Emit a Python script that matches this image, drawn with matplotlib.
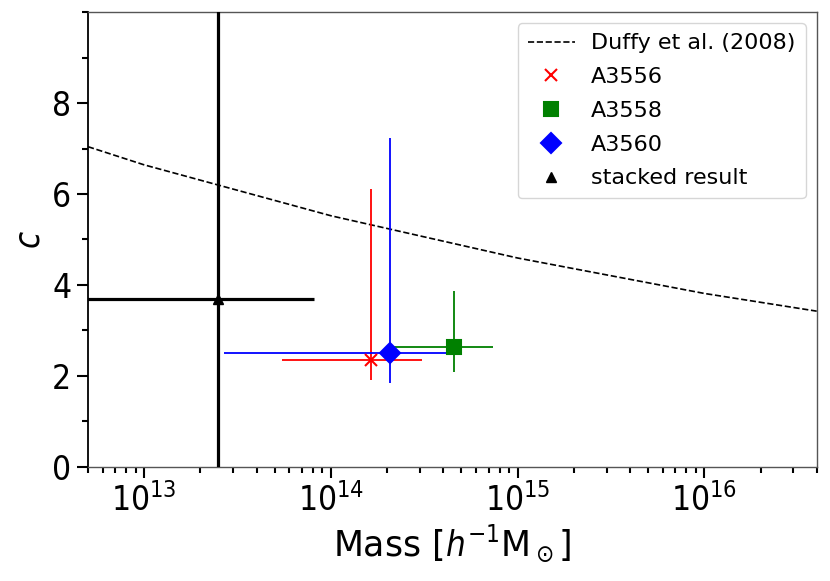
import matplotlib
matplotlib.use("Agg")
import matplotlib.pyplot as plt
from matplotlib.ticker import MultipleLocator, LogLocator, NullFormatter

plt.rcParams["font.family"] = "DejaVu Sans"
plt.rcParams["font.stretch"] = "condensed"
plt.rcParams["mathtext.fontset"] = "custom"
plt.rcParams["mathtext.rm"] = "DejaVu Sans:stretch=condensed"
plt.rcParams["mathtext.it"] = "DejaVu Sans:italic:stretch=condensed"
plt.rcParams["mathtext.bf"] = "DejaVu Sans:bold:stretch=condensed"
plt.rcParams["mathtext.sf"] = "DejaVu Sans:stretch=condensed"

# Duffy et al. (2008) relation
duffy_mass = [5e12, 1e13, 1e14, 1e15, 1e16, 4e16]
duffy_c = [7.04, 6.64, 5.52, 4.59, 3.81, 3.42]

# clusters
names = ["A3556", "A3558", "A3560"]
mass = [1.65e14, 4.55e14, 2.08e14]
mass_lo = [5.47e13, 2.15e14, 2.66e13]
mass_hi = [3.08e14, 7.41e14, 4.87e14]
conc = [2.35, 2.64, 2.50]
conc_lo = [1.90, 2.08, 1.83]
conc_hi = [6.10, 3.86, 7.23]
colors = ["red", "green", "blue"]
markers = ["x", "s", "D"]
msizes = [9, 9.5, 10]

# stacked result
st_mass = 2.5e13
st_mass_lo = 1e12
st_mass_hi = 8.07e13
st_c = 3.68
st_c_lo = -1.0
st_c_hi = 20.0

fig = plt.figure(figsize=(8.3, 5.81), dpi=100)
ax = fig.add_axes([0.106, 0.197, 0.878, 0.782])

ax.plot(duffy_mass, duffy_c, ls="--", color="black", lw=1.2,
        label="Duffy et al. (2008)", zorder=2)

for i in range(len(names)):
    ax.errorbar(mass[i], conc[i],
                xerr=[[mass[i] - mass_lo[i]], [mass_hi[i] - mass[i]]],
                yerr=[[conc[i] - conc_lo[i]], [conc_hi[i] - conc[i]]],
                fmt="none", ecolor=colors[i], elinewidth=1.3, capsize=0, zorder=3)
for i in range(len(names)):
    ax.plot(mass[i], conc[i], ls="none", marker=markers[i], color=colors[i],
            ms=msizes[i], mew=1.5, label=names[i], zorder=4)

ax.errorbar(st_mass, st_c,
            xerr=[[st_mass - st_mass_lo], [st_mass_hi - st_mass]],
            yerr=[[st_c - st_c_lo], [st_c_hi - st_c]],
            fmt="none", ecolor="black", elinewidth=2.3, capsize=0, zorder=3)
ax.plot(st_mass, st_c, ls="none", marker="^", color="black", ms=7,
        label="stacked result", zorder=4)

ax.set_xscale("log")
ax.set_xlim(5e12, 4e16)
ax.set_ylim(0, 10)
ax.yaxis.set_major_locator(MultipleLocator(2))
ax.yaxis.set_minor_locator(MultipleLocator(1))
ax.set_yticks([0, 2, 4, 6, 8])
ax.xaxis.set_major_locator(LogLocator(base=10, numticks=10))
ax.xaxis.set_minor_locator(LogLocator(base=10, subs=range(2, 10), numticks=20))
ax.xaxis.set_minor_formatter(NullFormatter())

ax.tick_params(which="major", direction="out", length=8, width=1.5,
               labelsize=24, pad=4)
ax.tick_params(which="minor", direction="out", length=4, width=1.5)
for s in ax.spines.values():
    s.set_linewidth(1.0)
    s.set_color("#555555")
ax.spines["left"].set_color("black")
ax.spines["left"].set_linewidth(1.3)

xl = ax.set_xlabel(r"Mass [$h^{-1}$M$_\odot$]", fontsize=25, labelpad=3,
                   fontstretch="normal")
xl.set_math_fontfamily("dejavusans")
ax.set_ylabel(r"$c$", fontsize=25)

leg = ax.legend(loc="upper right", frameon=True, fancybox=True,
                prop={"family": "DejaVu Sans", "stretch": "normal", "size": 16},
                handlelength=2.1, handletextpad=0.75, borderpad=0.45,
                labelspacing=0.62, borderaxespad=0.5)

fig.savefig("out.png", dpi=100)
